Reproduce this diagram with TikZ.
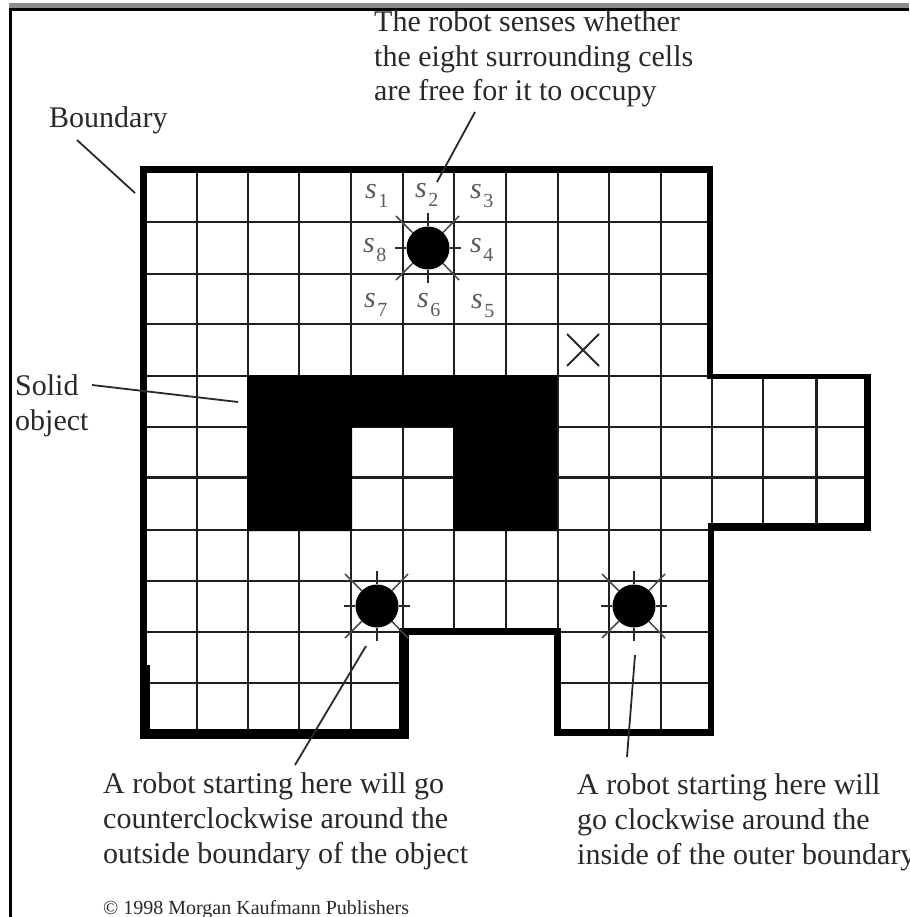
\documentclass[tikz,border=0pt]{standalone}
\usepackage{fontspec}
\setmainfont{Liberation Serif}
\definecolor{ink}{gray}{0.16}
\definecolor{labelgray}{gray}{0.36}
\tikzset{
  x=1pt,y=-1pt,
  gridline/.style={line width=2.2pt,black!88},
  leader/.style={line width=1.8pt,ink},
  robot/.style={circle,fill=black,inner sep=0pt,minimum size=43pt},
  ray/.style={line width=1.9pt,ink},
  dray/.style={line width=1.5pt,ink!85},
  caption/.style={font=\fontsize{30}{34.6}\selectfont,text=ink,align=left,anchor=base west,inner sep=0pt},
  smalltext/.style={font=\fontsize{20}{24}\selectfont,text=ink,anchor=base west,inner sep=0pt},
  cell/.style={font=\fontsize{30}{32}\selectfont,text=labelgray,inner sep=0pt,anchor=base west},
}
\newcommand{\robotrays}[1]{%
  \foreach \dx/\dy in {33/0,-33/0,0/35,0/-35}
    \draw[ray] (#1) -- ++(\dx,\dy);
  \foreach \dx/\dy in {31/32,-32/32,31/-32,-32/-32}
    \draw[dray] (#1) -- ++(\dx,\dy);
}
\begin{document}
\begin{tikzpicture}
\useasboundingbox (0,0) rectangle (909,917);
\fill[white] (0,0) rectangle (909,917);
% window frame
\fill[black!45] (9,3) rectangle (909,8.5);
\fill[black] (9,8.5) rectangle (909,11);
\fill[black] (9,8.5) rectangle (12,917);
% grid
\foreach \x in {197,248,299,351,403}
  \draw[gridline] (\x,170) -- (\x,734);
\foreach \x in {454,506}
  \draw[gridline] (\x,170) -- (\x,632);
\foreach \x in {558,609,661}
  \draw[gridline] (\x,170) -- (\x,734);
\draw[gridline] (712,377) -- (712,528);
\draw[gridline] (763,377) -- (763,528);
\draw[gridline] (816.5,377) -- (816.5,528);
\foreach \y in {222,274,324,376}
  \draw[gridline] (145,\y) -- (709,\y);
\foreach \y in {427,477.5}
  \draw[gridline] (145,\y) -- (867,\y);
\foreach \y in {530,581,632}
  \draw[gridline] (145,\y) -- (711,\y);
\draw[gridline] (145,683) -- (405,683);
\draw[gridline] (557,683) -- (711,683);
% solid object
\fill[black] (247,375) -- (557,375) -- (557,531) -- (453,531) -- (453,427) -- (352,427) -- (352,531) -- (247,531) -- cycle;
% boundary
\fill[black] (140,166) rectangle (713,173);
\fill[black] (140,166) rectangle (147,665);
\fill[black] (139.5,665) rectangle (150,739);
\fill[black] (139.5,729) rectangle (409,739);
\fill[black] (399,628) rectangle (409,739);
\fill[black] (399,628) rectangle (561,635);
\fill[black] (554,628) rectangle (561,736);
\fill[black] (554,729) rectangle (714,736);
\fill[black] (708,524) rectangle (714,736);
\fill[black] (708,523) rectangle (871,530.5);
\fill[black] (863.5,374) rectangle (871,530.5);
\fill[black] (707,374) rectangle (871,379);
\fill[black] (706.5,166) rectangle (713,379);
% cell labels
\foreach \nm/\lx/\ly/\sub in {a/365/199/1,b/415/198/2,c/470/199/3,d/470/252/4,e/471/308/5,f/417/307/6,g/364/307/7,h/363/252/8}
  \node[cell] (s\nm) at (\lx,\ly) {\textit{s}\kern1.5pt\raisebox{-9pt}{\fontsize{20}{22}\selectfont\sub}};
% robots
\node[robot] (r1) at (428,248) {};
\node[robot] (r2) at (377,606) {};
\node[robot] (r3) at (634,606) {};
\robotrays{r1}
\robotrays{r2}
\robotrays{r3}
% cross
\coordinate (xa) at (567,334);
\coordinate (xb) at (599,366);
\coordinate (xc) at (567,366);
\coordinate (xd) at (599,334);
\draw[leader] (xa) -- (xb);
\draw[leader] (xc) -- (xd);
% texts
\node[caption] (tTop) at (374,101) {The robot senses whether\\the eight surrounding cells\\are free for it to occupy};
\node[caption] (tBoundary) at (49,128) {Boundary};
\node[caption] (tSolid) at (15,430) {Solid\\object};
\node[caption] (tLeft) at (103,863) {A robot starting here will go\\counterclockwise around the\\outside boundary of the object};
\node[caption] (tRight) at (577,864) {A robot starting here will\\go clockwise around the\\inside of the outer boundary};
\node[smalltext] (tCopy) at (103,914) {© 1998 Morgan Kaufmann Publishers};
% leaders
\coordinate (lTopA) at (475,112);
\coordinate (lTopB) at (437,182);
\coordinate (lBoundA) at (77,140);
\coordinate (lBoundB) at (135,193);
\coordinate (lSolidA) at (92,385);
\coordinate (lSolidB) at (238,402);
\coordinate (lLeftA) at (295,765);
\coordinate (lLeftB) at (366,646);
\coordinate (lRightA) at (627,757);
\coordinate (lRightB) at (635,655);
\draw[leader] (lTopA) -- (lTopB);
\draw[leader] (lBoundA) -- (lBoundB);
\draw[leader] (lSolidA) -- (lSolidB);
\draw[leader] (lLeftA) -- (lLeftB);
\draw[leader] (lRightA) -- (lRightB);
\end{tikzpicture}
\end{document}
